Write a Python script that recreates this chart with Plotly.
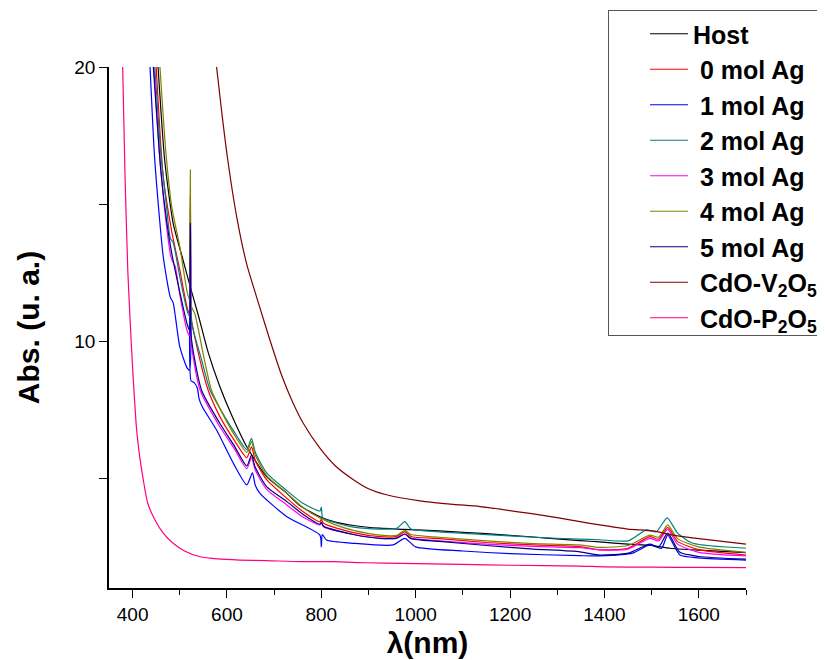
import plotly.graph_objects as go

# wavelength (nm) / absorbance (u. a.)
host_nm = [454, 468, 486, 507, 522, 540, 560, 585, 610, 642, 684, 727, 755, 797, 830, 868, 924, 975, 1050,
           1150, 1250, 1306, 1348, 1390, 1450, 1500, 1539, 1600, 1700]
host_abs = [20, 16.6, 14.3, 12.96, 12.0, 10.9, 9.6, 8.34, 7.3, 6.15, 5.06, 4.45, 4.0, 3.6, 3.4, 3.28, 3.18, 3.14, 3.08,
            2.98, 2.86, 2.78, 2.73, 2.68, 2.6, 2.55, 2.45, 2.38, 2.29]

ag0_nm = [450, 465, 483, 500, 516, 521, 522.5, 524, 535, 560, 585, 615, 642, 652, 660, 684, 727, 760, 797, 800,
          805, 868, 924, 960, 977, 990, 1050, 1150, 1250, 1348, 1390, 1450, 1496, 1515, 1534, 1555, 1600, 1700]
ag0_abs = [20, 16.0, 14.0, 12.6, 11.2, 11.0, 15.3, 10.9, 9.9, 8.22, 7.25, 6.4, 5.75, 6.15, 5.65, 4.95, 4.27, 3.8,
           3.42, 3.5, 3.35, 3.02, 2.87, 2.88, 3.05, 2.88, 2.8, 2.66, 2.57, 2.51, 2.39, 2.45, 2.87, 2.78, 3.21, 2.7,
           2.4, 2.2]

ag1_nm = [437, 447, 465, 480, 486, 500, 516, 521, 522.5, 524, 530, 537, 541, 548, 578, 615, 642, 654, 660, 670,
          727, 797, 800, 802, 811, 868, 952, 977, 1000, 1100, 1200, 1348, 1390, 1460, 1496, 1521, 1534, 1560,
          1600, 1700]
ag1_abs = [20, 16.6, 13.08, 11.6, 11.4, 9.8, 9.01, 8.95, 13.4, 8.55, 8.5, 8.3, 7.9, 7.6, 6.76, 5.5, 4.76, 5.2,
           4.75, 4.45, 3.6, 2.93, 2.5, 2.95, 2.75, 2.63, 2.57, 2.81, 2.5, 2.35, 2.25, 2.18, 2.17, 2.27, 2.57, 2.45,
           2.93, 2.2, 2.1, 2.02]

ag2_nm = [447, 460, 472, 480, 486, 500, 516, 521, 522.5, 524, 530, 545, 564, 585, 615, 642, 652, 660, 684, 727,
          760, 797, 800, 803, 830, 868, 924, 960, 977, 990, 1050, 1150, 1250, 1348, 1390, 1450, 1489, 1510, 1533,
          1555, 1588, 1700]
ag2_abs = [20, 16.8, 14.9, 13.75, 13.6, 12.35, 11.08, 10.9, 14.9, 10.8, 10.3, 9.4, 8.22, 7.55, 6.7, 6.05, 6.46,
           5.95, 5.2, 4.55, 4.1, 3.81, 3.95, 3.55, 3.38, 3.22, 3.15, 3.18, 3.42, 3.15, 3.05, 2.95, 2.85, 2.78, 2.76,
           2.72, 3.12, 3.05, 3.56, 3.0, 2.63, 2.45]

ag3_nm = [445, 458, 472, 481, 485, 490, 500, 515, 521, 522.5, 524, 543, 585, 615, 642, 652, 660, 684, 727, 760,
          797, 800, 805, 868, 924, 960, 977, 990, 1050, 1150, 1250, 1348, 1390, 1450, 1496, 1515, 1534, 1555,
          1600, 1700]
ag3_abs = [20, 16.6, 14.18, 13.1, 12.9, 12.75, 11.7, 10.41, 10.2, 14.5, 10.0, 8.22, 6.88, 6.1, 5.35, 5.75, 5.3,
           4.6, 4.03, 3.6, 3.3, 3.38, 3.22, 2.95, 2.81, 2.82, 2.97, 2.82, 2.72, 2.6, 2.52, 2.47, 2.39, 2.42, 2.81,
           2.72, 3.14, 2.6, 2.3, 2.17]

ag4_nm = [458, 470, 483, 500, 516, 521, 522.5, 524, 532, 550, 567, 585, 615, 642, 652, 660, 684, 727, 760, 797,
          830, 868, 924, 960, 977, 990, 1050, 1150, 1250, 1348, 1390, 1450, 1496, 1515, 1534, 1555, 1600, 1700]
ag4_abs = [20, 17.0, 14.9, 13.45, 11.76, 11.5, 16.25, 11.3, 11.0, 9.5, 8.22, 7.55, 6.6, 5.95, 6.34, 5.85, 5.1,
           4.45, 3.95, 3.55, 3.3, 3.1, 2.93, 2.92, 3.1, 2.95, 2.85, 2.72, 2.62, 2.57, 2.48, 2.55, 2.93, 2.85, 3.3,
           2.8, 2.5, 2.3]

ag5_nm = [444, 460, 472, 483, 500, 516, 521, 522.5, 524, 546, 585, 615, 642, 652, 660, 684, 727, 760, 797, 800,
          805, 868, 924, 960, 977, 990, 1050, 1150, 1250, 1348, 1390, 1450, 1496, 1515, 1534, 1560, 1600, 1700]
ag5_abs = [20, 16.2, 14.4, 13.2, 11.8, 10.6, 10.4, 14.3, 10.2, 8.22, 7.0, 6.2, 5.45, 5.85, 5.4, 4.7, 4.15, 3.7,
           3.33, 3.4, 3.25, 2.95, 2.81, 2.82, 2.97, 2.8, 2.7, 2.55, 2.42, 2.32, 2.2, 2.27, 2.6, 2.5, 3.0, 2.3, 2.15,
           2.05]

v2o5_nm = [578, 590, 601, 621, 642, 663, 690, 716, 740, 762, 797, 830, 868, 900, 938, 1009, 1080, 1136, 1242,
           1306, 1348, 1390, 1450, 1503, 1546, 1600, 1700]
v2o5_abs = [20, 18.2, 16.7, 14.5, 12.8, 11.6, 10.1, 8.75, 7.75, 7.0, 6.1, 5.45, 4.95, 4.62, 4.4, 4.18, 4.05, 3.97,
            3.72, 3.55, 3.42, 3.3, 3.15, 3.08, 2.93, 2.8, 2.6]

p2o5_nm = [379, 384, 390, 397, 401.5, 408.6, 415, 422.7, 432, 447.5, 465, 486, 510, 543, 580, 627, 684, 755, 826,
           896, 967, 1100, 1200, 1348, 1400, 1500, 1600, 1700]
p2o5_abs = [20, 16, 12.5, 10, 8.6, 6.76, 5.8, 4.94, 4.1, 3.48, 3.0, 2.63, 2.35, 2.14, 2.06, 2.02, 2.0, 1.96, 1.96,
            1.92, 1.9, 1.86, 1.83, 1.8, 1.77, 1.76, 1.75, 1.74]

# legend labels (non-breaking spaces keep the original indent / box running past the edge)
series_names = ['Host', '\u00a00 mol Ag', '\u00a01 mol Ag', '\u00a02 mol Ag', '\u00a03 mol Ag', '\u00a04 mol Ag',
                '\u00a05 mol Ag', '\u00a0CdO-V<sub>2</sub>O<sub>5</sub>\u00a0\u00a0',
                '\u00a0CdO-P<sub>2</sub>O<sub>5</sub>\u00a0\u00a0']
series_colors = ['#000000', '#FF0000', '#0000FF', '#008080', '#FF00FF', '#808000', '#000080', '#800000', '#FF0080']

FONT = 'Arial, Liberation Sans, sans-serif'


def main():
    xs = [host_nm, ag0_nm, ag1_nm, ag2_nm, ag3_nm, ag4_nm, ag5_nm, v2o5_nm, p2o5_nm]
    ys = [host_abs, ag0_abs, ag1_abs, ag2_abs, ag3_abs, ag4_abs, ag5_abs, v2o5_abs, p2o5_abs]

    fig = go.Figure()
    for x, y, name, color in zip(xs, ys, series_names, series_colors):
        fig.add_trace(go.Scatter(x=x, y=y, mode='lines', name=name,
                                 line=dict(color=color, width=1.2, shape='spline', smoothing=0.6)))

    # page body has an 8px margin, so the figure is 8px smaller and shifted
    fig.update_layout(
        width=817, height=652,
        margin=dict(l=101, r=0, t=59, b=72, autoexpand=False),
        paper_bgcolor='white', plot_bgcolor='white',
        font=dict(family=FONT, color='black'),
        legend=dict(
            x=(600 - 101) / 716, y=1 + (59 - 2) / 521, xanchor='left', yanchor='top',
            bgcolor='white', bordercolor='#555555', borderwidth=1,
            font=dict(family=FONT, size=25, weight='bold', color='black'),
            indentation=36, itemwidth=38,
        ),
    )
    fig.update_xaxes(
        domain=[0, 637 / 716], range=[350, 1700],
        showline=True, linecolor='black', linewidth=1.5, mirror=False,
        showgrid=False, zeroline=False,
        ticks='outside', ticklen=8, tickwidth=1.2, tickcolor='black',
        tick0=400, dtick=200, tickfont=dict(size=19),
        minor=dict(ticks='outside', ticklen=5, tickwidth=1.2, tickcolor='black', dtick=100),
        title=dict(text='λ(nm)', font=dict(size=30, weight='bold'), standoff=8),
    )
    fig.update_yaxes(
        range=[1, 20],
        showline=True, linecolor='black', linewidth=1.5, mirror=False,
        showgrid=False, zeroline=False,
        ticks='outside', ticklen=8, tickwidth=1.2, tickcolor='black',
        tick0=0, dtick=10, tickfont=dict(size=19),
        minor=dict(ticks='outside', ticklen=8, tickwidth=1.2, tickcolor='black', dtick=5),
        title=dict(text='Abs. (u. a.)', font=dict(size=30, weight='bold'), standoff=26),
    )

    fig.write_html('out.html')


if __name__ == '__main__':
    main()
